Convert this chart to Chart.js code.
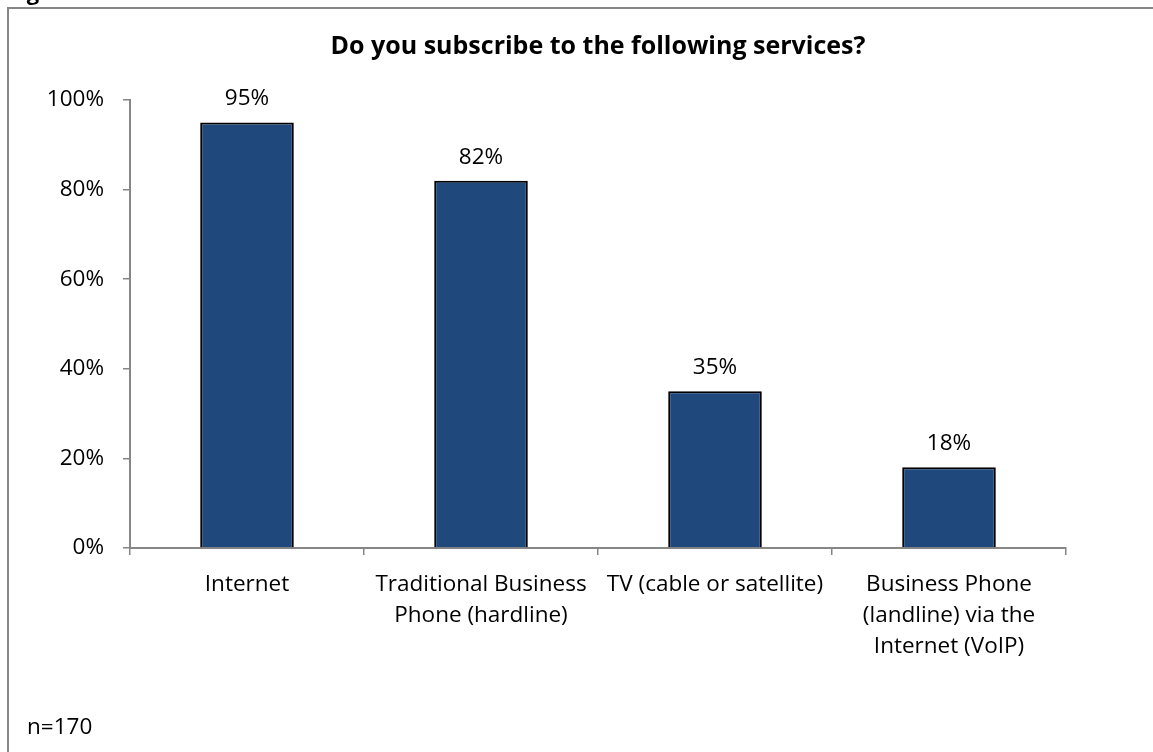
<!DOCTYPE html>
<html>
<head>
<meta charset="utf-8">
<script src="https://cdn.jsdelivr.net/npm/chart.js@4/dist/chart.umd.min.js"></script>
<style>
  html, body { margin: 0; padding: 0; background: #ffffff; }
  #wrap { width: 1153px; height: 752px; position: relative; }
  canvas { display: block; }
</style>
</head>
<body>
<div id="wrap"><canvas id="c" width="1153" height="752"></canvas></div>
<script>
// Survey categories (multi-line labels) and share of respondents, in percent
const categories = [
  ["Internet"],
  ["Traditional Business", "Phone (hardline)"],
  ["TV (cable or satellite)"],
  ["Business Phone", "(landline) via the", "Internet (VoIP)"]
];
const shares = [95, 82, 35, 18];
const yTicks = [0, 20, 40, 60, 80, 100];
const titleText = "Do you subscribe to the following services?";
const captionText = "Figure 1";
const sampleNote = "n=170";

const FONT = "'Open Sans', Lato, sans-serif";
const TEXT_SIZE = 22.5;
const AXIS_GREY = "#868686";

// Frame, caption, heading and sample-size note
const framePlugin = {
  id: "frame",
  beforeDraw(chart) {
    const ctx = chart.ctx;
    ctx.save();
    ctx.fillStyle = "#ffffff";
    ctx.fillRect(0, 0, chart.width, chart.height);
    // clipped caption above the frame
    ctx.fillStyle = "#000";
    ctx.font = "bold 22px " + FONT;
    ctx.textAlign = "left";
    ctx.textBaseline = "alphabetic";
    ctx.fillText(captionText, 8, 0);
    // outer frame (left and top edges)
    ctx.strokeStyle = AXIS_GREY;
    ctx.lineWidth = 2;
    ctx.beginPath();
    ctx.moveTo(8, chart.height);
    ctx.lineTo(8, 8);
    ctx.lineTo(chart.width, 8);
    ctx.stroke();
    // heading
    const area = chart.chartArea;
    ctx.font = "bold 25px " + FONT;
    ctx.textAlign = "center";
    ctx.fillText(titleText, (area.left + area.right) / 2, 54);
    // sample note
    ctx.font = TEXT_SIZE + "px " + FONT;
    ctx.textAlign = "left";
    ctx.fillText(sampleNote, 27, 734);
    ctx.restore();
  }
};

// Value labels above each bar
const valueLabels = {
  id: "valueLabels",
  afterDatasetsDraw(chart) {
    const ctx = chart.ctx;
    const meta = chart.getDatasetMeta(0);
    ctx.save();
    ctx.fillStyle = "#000";
    ctx.font = TEXT_SIZE + "px " + FONT;
    ctx.textAlign = "center";
    ctx.textBaseline = "alphabetic";
    meta.data.forEach((bar, i) => {
      ctx.fillText(shares[i] + "%", bar.x, bar.y - 17);
    });
    ctx.restore();
  }
};

new Chart(document.getElementById("c"), {
  type: "bar",
  data: {
    labels: categories,
    datasets: [{
      data: shares,
      backgroundColor: "#1F497D",
      borderColor: "#000000",
      borderWidth: 2,
      barPercentage: 0.4,
      categoryPercentage: 1.0
    }]
  },
  options: {
    responsive: false,
    devicePixelRatio: 1,
    animation: false,
    layout: { padding: { left: 0, right: 87, top: 100, bottom: 0 } },
    plugins: {
      legend: { display: false },
      title: { display: false },
      tooltip: { enabled: false }
    },
    scales: {
      x: {
        grid: {
          display: true,
          drawOnChartArea: false,
          drawTicks: true,
          tickLength: 7,
          color: AXIS_GREY,
          lineWidth: 1.5,
          offset: true
        },
        border: { display: true, color: AXIS_GREY, width: 2 },
        ticks: {
          color: "#000",
          font: { family: FONT, size: TEXT_SIZE, lineHeight: 1.38 },
          padding: 14,
          maxRotation: 0,
          autoSkip: false
        },
        afterFit(scale) { scale.height = 204; }
      },
      y: {
        min: 0,
        max: 100,
        afterBuildTicks(scale) { scale.ticks = yTicks.map(v => ({ value: v })); },
        grid: {
          display: true,
          drawOnChartArea: false,
          drawTicks: true,
          tickLength: 7,
          color: AXIS_GREY,
          lineWidth: 1.5
        },
        border: { display: true, color: AXIS_GREY, width: 2 },
        ticks: {
          color: "#000",
          font: { family: FONT, size: TEXT_SIZE },
          padding: 19,
          callback: v => v + "%"
        },
        afterFit(scale) { scale.width = 130; }
      }
    }
  },
  plugins: [framePlugin, valueLabels]
});
</script>
</body>
</html>
